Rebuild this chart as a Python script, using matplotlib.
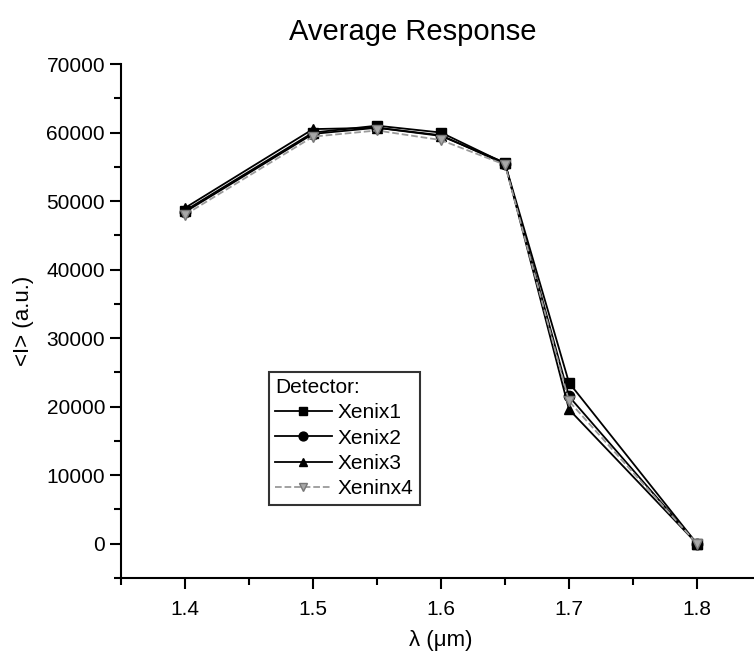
import matplotlib
matplotlib.use("Agg")
import matplotlib.pyplot as plt
from matplotlib.ticker import MultipleLocator

plt.rcParams['font.family'] = ['Liberation Sans', 'DejaVu Sans']

wavelength = [1.4, 1.5, 1.55, 1.6, 1.65, 1.7, 1.8]
xenix1 = [48600, 60000, 61000, 60000, 55500, 23500, 0]
xenix2 = [48400, 59800, 60700, 59600, 55400, 21500, 0]
xenix3 = [49000, 60500, 60700, 59500, 55600, 19600, 0]
xenix4 = [48000, 59400, 60300, 58900, 55300, 20800, 0]
labels = ["Xenix1", "Xenix2", "Xenix3", "Xeninx4"]

W, H = 754, 660
fig = plt.figure(figsize=(W / 100, H / 100), dpi=100)
ax = fig.add_axes([121 / W, 82 / H, 640 / W, (578 - 64) / H])

ax.plot(wavelength, xenix1, '-', color='black', lw=1.3, marker='s', ms=7.5, label=labels[0], zorder=3)
ax.plot(wavelength, xenix2, '-', color='black', lw=1.3, marker='o', ms=7.5, label=labels[1], zorder=3)
ax.plot(wavelength, xenix3, '-', color='black', lw=1.3, marker='^', ms=7.5, label=labels[2], zorder=3)
ax.plot(wavelength, xenix4, '--', color='#9a9a9a', lw=1.3, marker='v', ms=7.5,
        markerfacecolor='#a8a8a8', markeredgecolor='#777777', label=labels[3], zorder=4)

ax.set_xlim(1.35, 1.85)
ax.set_ylim(-5000, 70000)
ax.xaxis.set_minor_locator(MultipleLocator(0.05))
ax.yaxis.set_minor_locator(MultipleLocator(5000))
ax.set_xticks([1.4, 1.5, 1.6, 1.7, 1.8])
ax.set_xticklabels(["1.4", "1.5", "1.6", "1.7", "1.8"])
ax.set_yticks([0, 10000, 20000, 30000, 40000, 50000, 60000, 70000])

for s in ['top', 'right']:
    ax.spines[s].set_visible(False)
for s in ['left', 'bottom']:
    ax.spines[s].set_linewidth(1.5)

ax.tick_params(axis='both', which='major', direction='out', length=8, width=1.5, labelsize=15)
ax.tick_params(axis='both', which='minor', direction='out', length=5, width=1.5)
ax.tick_params(axis='x', which='major', pad=8)

ax.set_xlabel("λ (μm)", fontsize=16, labelpad=8)
ax.set_ylabel("<I> (a.u.)", fontsize=16, labelpad=9)

fig.text(413 / W, 1 - 32 / H, "Average Response", fontsize=21, ha='center', va='center')

leg = ax.legend(loc='upper left', frameon=True,
                title="Detector:", fontsize=15, title_fontsize=15, alignment='left',
                handlelength=2.7, handletextpad=0.3, borderpad=0.3, labelspacing=0.3,
                borderaxespad=0, fancybox=False, edgecolor='black', markerscale=0.85)
leg.get_frame().set_linewidth(1.5)
leg.set_bbox_to_anchor((269 / W, 1 - 372 / H), transform=fig.transFigure)

fig.savefig("out.png", dpi=100)
